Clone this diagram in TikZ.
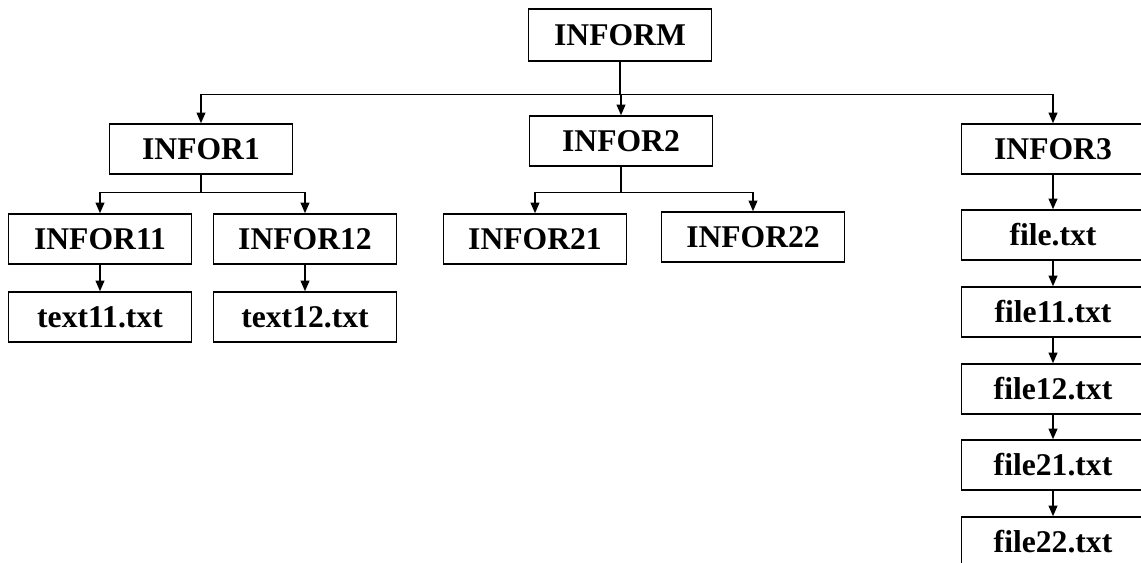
\documentclass[tikz,border=0pt]{standalone}
\usepackage{fontspec}
\setmainfont{Liberation Serif}
\usetikzlibrary{arrows.meta,positioning}

\begin{document}
\begin{tikzpicture}[
  x=0.02cm, y=-0.02cm,
  fbox/.style={rectangle, draw=black, line width=0.9pt, fill=white,
               minimum width=3.66cm, minimum height=1.0cm, inner sep=0pt,
               font=\fontsize{18}{20}\selectfont\bfseries},
  arr/.style={-{Triangle[length=6pt,width=5pt]}, line width=0.8pt}
]
\clip (0,0) rectangle (1141,562);

% Root node
\node[fbox, minimum height=1.04cm] (inform) at (620,35) {INFORM};

% First level
\node[fbox] (infor1) at (201,149)  {INFOR1};
\node[fbox] (infor2) at (621,141)  {INFOR2};
\node[fbox] (infor3) at (1053,149) {INFOR3};

% Under INFOR1
\node[fbox] (infor11) at (100,239) {INFOR11};
\node[fbox] (infor12) at (305,239) {INFOR12};
\node[fbox] (text11)  at (100,317) {text11.txt};
\node[fbox] (text12)  at (305,317) {text12.txt};

% Under INFOR2
\node[fbox] (infor21) at (535,239) {INFOR21};
\node[fbox] (infor22) at (753,237) {INFOR22};

% Under INFOR3
\node[fbox] (file)   at (1053,235) {file.txt};
\node[fbox] (file11) at (1053,312) {file11.txt};
\node[fbox] (file12) at (1053,389) {file12.txt};
\node[fbox] (file21) at (1053,465) {file21.txt};
\node[fbox] (file22) at (1053,542) {file22.txt};

% Arrows from the root
\draw[line width=0.8pt] (inform.south) -- ++(0,33) coordinate (bus);
\draw[arr] (bus) -| (infor1.north);
\draw[arr] (bus) -| (infor2.north);
\draw[arr] (bus) -| (infor3.north);

% Arrows from INFOR1
\draw[line width=0.8pt] (infor1.south) -- ++(0,18) coordinate (bus1);
\draw[arr] (bus1) -| (infor11.north);
\draw[arr] (bus1) -| (infor12.north);
\draw[arr] (infor11.south) -- (text11.north);
\draw[arr] (infor12.south) -- (text12.north);

% Arrows from INFOR2
\draw[line width=0.8pt] (infor2.south) -- ++(0,26) coordinate (bus2);
\draw[arr] (bus2) -| (infor21.north);
\draw[arr] (bus2) -| (infor22.north);

% Chain under INFOR3
\draw[arr] (infor3.south) -- (file.north);
\draw[arr] (file.south)   -- (file11.north);
\draw[arr] (file11.south) -- (file12.north);
\draw[arr] (file12.south) -- (file21.north);
\draw[arr] (file21.south) -- (file22.north);
\end{tikzpicture}
\end{document}
